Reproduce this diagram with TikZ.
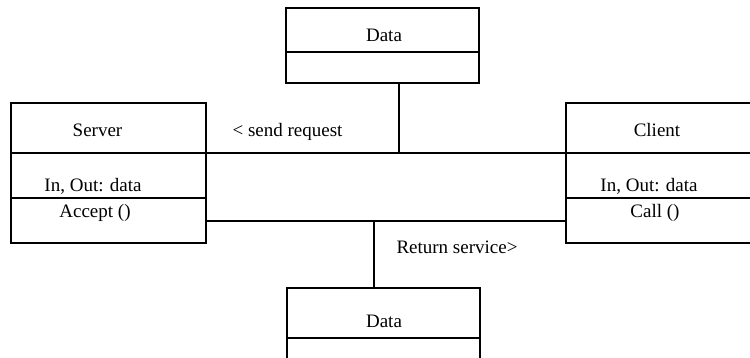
\documentclass[tikz,border=0pt]{standalone}
\usepackage{fontspec}
\setmainfont{Liberation Serif}
\begin{document}
\begin{tikzpicture}[x=1pt,y=-1pt,
  box/.style={draw, line width=1.6pt, rectangle, inner sep=0pt},
  conn/.style={line width=1.6pt},
  lbl/.style={anchor=base, inner sep=0pt, font=\fontsize{19}{22}\selectfont}]
\useasboundingbox (0,0) rectangle (750,358);
\clip (0,0) rectangle (750,358);
% class boxes
\node[box, minimum width=195pt, minimum height=140pt] (server) at (108.5,173) {};
\node[box, minimum width=195pt, minimum height=140pt] (client) at (663.5,173) {};
\node[box, minimum width=193pt, minimum height=75pt] (dtop) at (382.5,45.5) {};
\node[box, minimum width=193pt, minimum height=81pt] (dbot) at (383.5,328.5) {};
% compartment dividers
\coordinate (s1) at (0,153);
\coordinate (s2) at (0,198);
\coordinate (t1) at (0,52);
\coordinate (b1) at (0,338);
\draw[conn] (server.west |- s1) -- (server.east |- s1);
\draw[conn] (server.west |- s2) -- (server.east |- s2);
\draw[conn] (client.west |- s1) -- (client.east |- s1);
\draw[conn] (client.west |- s2) -- (client.east |- s2);
\draw[conn] (dtop.west |- t1) -- (dtop.east |- t1);
\draw[conn] (dbot.west |- b1) -- (dbot.east |- b1);
% connectors
\coordinate (j1) at (399,153);
\coordinate (l2) at (0,221);
\coordinate (j2) at (374,221);
\draw[conn] (server.east |- s1) -- (client.west |- s1);
\draw[conn] (dtop.south -| j1) -- (j1);
\draw[conn] (server.east |- l2) -- (client.west |- l2);
\draw[conn] (j2) -- (j2 |- dbot.north);
% texts
\node[lbl] (tserver) at (97.5,136.5) {Server};
\node[lbl] (tclient) at (657,136.5) {Client};
\node[lbl] (tsattr) at (93,191.5) {In, Out: data};
\node[lbl] (tcattr) at (649,191.5) {In, Out: data};
\node[lbl] (tsop) at (95,217.5) {Accept ()};
\node[lbl] (tcop) at (655,217.5) {Call ()};
\node[lbl] (tsend) at (287.5,136.5) {< send request};
\node[lbl] (tret) at (457,253.5) {Return service>};
\node[lbl] (tdtop) at (384,42) {Data};
\node[lbl] (tdbot) at (384,327) {Data};
\end{tikzpicture}
\end{document}
